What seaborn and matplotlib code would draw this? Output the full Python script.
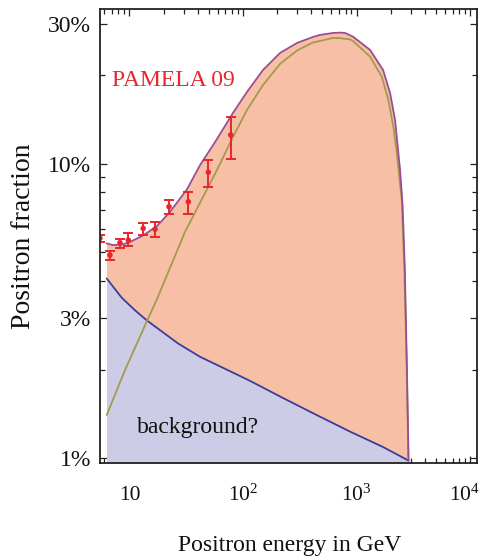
import matplotlib
matplotlib.use("Agg")
import matplotlib.pyplot as plt
import matplotlib.transforms as mtransforms
import numpy as np
import pandas as pd
import seaborn as sns
from matplotlib.ticker import FixedLocator, FixedFormatter, NullFormatter

# PAMELA 2009 positron fraction (energy in GeV, fraction, error-bar ends)
pamela_energy = [5.5, 6.73, 8.25, 9.76, 13.2, 16.8, 22.3, 33.0, 49.5, 77.9]
pamela_frac = [0.0559, 0.0490, 0.0540, 0.0551, 0.0604, 0.0600, 0.0716, 0.0744, 0.0937, 0.1255]
pamela_low = [0.0544, 0.0472, 0.0517, 0.0526, 0.0574, 0.0563, 0.0676, 0.0676, 0.0837, 0.1038]
pamela_high = [0.0574, 0.0507, 0.0556, 0.0581, 0.0628, 0.0636, 0.0754, 0.0801, 0.1032, 0.1449]

# Astrophysical secondary background
bg_energy = [6.3, 8.54, 11.18, 14.18, 26.9, 41.8, 115.3, 225.1, 446, 876, 1712, 2872]
bg_frac = [0.0408, 0.0351, 0.0318, 0.0294, 0.0245, 0.0221, 0.0183, 0.0160,
           0.0140, 0.0123, 0.0109, 0.0098]

# Dark-matter annihilation contribution
sig_energy = [6.3, 9.13, 14.18, 17.36, 30.8, 44.4, 59.0, 81.6, 108.4, 150.1, 211.8,
              299.1, 413.7, 476, 620.9, 715, 876, 931, 1315, 1667, 1906, 2110, 2261,
              2502, 2637, 2769, 2861]
sig_frac = [0.0140, 0.0199, 0.0291, 0.0345, 0.0587, 0.0772, 0.0954, 0.1235, 0.1527,
            0.1856, 0.2189, 0.2432, 0.2590, 0.2620, 0.2683, 0.2680, 0.2652, 0.2620,
            0.2317, 0.1981, 0.1651, 0.1339, 0.1090, 0.0754, 0.0436, 0.0199, 0.0100]

# Signal plus background
tot_energy = [6.27, 7.15, 8.59, 10.1, 13.15, 17.47, 22.75, 32.1, 41.8, 59.0, 81.6,
              108.4, 150.1, 211.8, 299.1, 413.7, 476, 620.9, 715, 792, 931, 1315,
              1712, 1973, 2184, 2335, 2417, 2543, 2665, 2780, 2872]
tot_frac = [0.0537, 0.0530, 0.0532, 0.0543, 0.0571, 0.0615, 0.0687, 0.0820, 0.0990,
            0.1216, 0.1491, 0.1758, 0.2088, 0.2385, 0.2580, 0.2704, 0.2747, 0.2790,
            0.2797, 0.2790, 0.2710, 0.2443, 0.2088, 0.1744, 0.1411, 0.1090, 0.0954,
            0.0725, 0.0436, 0.0199, 0.0098]

x_ticks = [10, 100, 1000, 10000]
x_tick_labels = ["10", "10$^{2}$", "10$^{3}$", "10$^{4}$"]
y_ticks = [0.01, 0.03, 0.10, 0.30]
y_tick_labels = ["1%", "3%", "10%", "30%"]
y_minor = [0.02, 0.04, 0.05, 0.06, 0.07, 0.08, 0.09, 0.20]

sns.set_theme(style="ticks")
plt.rcParams["font.family"] = ["Liberation Serif", "DejaVu Serif"]
plt.rcParams["mathtext.fontset"] = "custom"
plt.rcParams["mathtext.rm"] = "Liberation Serif"
plt.rcParams["mathtext.it"] = "Liberation Serif:italic"
plt.rcParams["mathtext.bf"] = "Liberation Serif:bold"

fig = plt.figure(figsize=(4.84, 5.58), dpi=100)
ax = fig.add_axes([0.2066, 0.1703, 0.7789, 0.8136])
ax.set_xscale("log")
ax.set_yscale("log")
xmin, xmax = 5.5, 11500
ymin, ymax = 0.00962, 0.3366
ax.set_xlim(xmin, xmax)
ax.set_ylim(ymin, ymax)

salmon = "#F8BFA7"
lavender = "#CDCCE7"
blue_line = "#3C3C9C"
olive_line = "#A39A4E"
purple_line = "#9A4E92"
red = "#E8262B"

# filled areas: total down to the floor, background on top of it
ax.fill_between(tot_energy, tot_frac, ymin, color=salmon, lw=0, zorder=1)
ax.fill_between(bg_energy, bg_frac, ymin, color=lavender, lw=0, zorder=2)

bg_df = pd.DataFrame({"E": bg_energy, "f": bg_frac})
sig_df = pd.DataFrame({"E": sig_energy, "f": sig_frac})
tot_df = pd.DataFrame({"E": tot_energy, "f": tot_frac})
line_kw = dict(lw=1.3, solid_joinstyle="round", solid_capstyle="round")
sns.lineplot(data=bg_df, x="E", y="f", ax=ax, color=blue_line, zorder=3, **line_kw)
sns.lineplot(data=sig_df, x="E", y="f", ax=ax, color=olive_line, zorder=3, **line_kw)
sns.lineplot(data=tot_df, x="E", y="f", ax=ax, color=purple_line, zorder=4, **line_kw)

# PAMELA points with error bars
frac = np.array(pamela_frac)
yerr = [frac - np.array(pamela_low), np.array(pamela_high) - frac]
ax.errorbar(pamela_energy, pamela_frac, yerr=yerr, fmt="none", ecolor=red,
            elinewidth=1.4, capsize=3.6, capthick=1.4, zorder=5)
pam_df = pd.DataFrame({"E": pamela_energy, "f": pamela_frac})
sns.scatterplot(data=pam_df, x="E", y="f", ax=ax, color=red, s=16,
                edgecolor="none", zorder=6)

# ticks on all four sides, pointing inward
ax.xaxis.set_major_locator(FixedLocator(x_ticks))
ax.xaxis.set_major_formatter(FixedFormatter(x_tick_labels))
x_minor = [m * d for d in (1, 10, 100, 1000) for m in range(2, 10)]
ax.xaxis.set_minor_locator(FixedLocator(x_minor))
ax.xaxis.set_minor_formatter(NullFormatter())
ax.yaxis.set_major_locator(FixedLocator(y_ticks))
ax.yaxis.set_major_formatter(FixedFormatter(y_tick_labels))
ax.yaxis.set_minor_locator(FixedLocator(y_minor))
ax.yaxis.set_minor_formatter(NullFormatter())

ax.tick_params(which="both", direction="in", top=True, right=True,
               color="#222222", width=0.9)
ax.tick_params(which="major", length=5.2)
ax.tick_params(which="minor", length=3.6)
ax.tick_params(axis="y", which="major", labelsize=17, pad=6.5, labelcolor="#111111")
ax.tick_params(axis="x", which="major", labelsize=15.5, pad=27, labelcolor="#111111")
xlabels = ax.get_xticklabels()
for lab in xlabels:
    lab.set_va("baseline")
# keep the last decade label inside the figure
shift = mtransforms.ScaledTranslation(-4 / 72, 0, fig.dpi_scale_trans)
xlabels[-1].set_transform(xlabels[-1].get_transform() + shift)

for sp in ax.spines.values():
    sp.set_linewidth(1.3)
    sp.set_color("#222222")
    sp.set_zorder(7)

ax.set_xlabel("Positron energy in GeV", fontsize=17, color="#111111", va="center")
ax.xaxis.set_label_coords(0.504, -0.181)
ax.set_ylabel("Positron fraction", fontsize=20, color="#111111", va="center")
ax.yaxis.set_label_coords(-0.2016, 0.5)

ax.text(0.032, 0.830, "PAMELA 09", transform=ax.transAxes, color=red,
        fontsize=17, va="baseline", ha="left", zorder=8)
ax.text(0.098, 0.066, "background?", transform=ax.transAxes, color="#111111",
        fontsize=17, va="baseline", ha="left", zorder=8)

fig.savefig("out.png", dpi=100)
